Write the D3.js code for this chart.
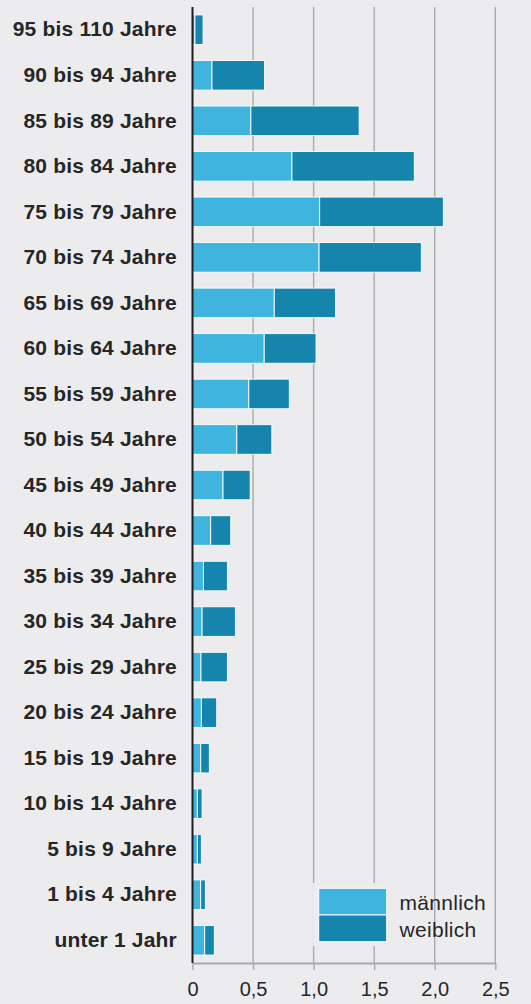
<!DOCTYPE html>
<html><head><meta charset="utf-8">
<script src="https://cdn.jsdelivr.net/npm/d3@7"></script>
<style>
html,body{margin:0;padding:0;background:#ececee;}
svg{display:block;}
</style></head>
<body>
<script>
const categories = ["95 bis 110 Jahre","90 bis 94 Jahre","85 bis 89 Jahre","80 bis 84 Jahre","75 bis 79 Jahre","70 bis 74 Jahre","65 bis 69 Jahre","60 bis 64 Jahre","55 bis 59 Jahre","50 bis 54 Jahre","45 bis 49 Jahre","40 bis 44 Jahre","35 bis 39 Jahre","30 bis 34 Jahre","25 bis 29 Jahre","20 bis 24 Jahre","15 bis 19 Jahre","10 bis 14 Jahre","5 bis 9 Jahre","1 bis 4 Jahre","unter 1 Jahr"];
const maennlich = [0.02,0.161,0.482,0.821,1.05,1.045,0.675,0.592,0.465,0.366,0.252,0.15,0.09,0.079,0.07,0.073,0.068,0.04,0.04,0.068,0.101];
const weiblich  = [0.067,0.434,0.894,1.01,1.021,0.844,0.505,0.428,0.334,0.289,0.224,0.166,0.198,0.275,0.218,0.127,0.071,0.039,0.033,0.038,0.079];
const tickValues = [0,0.5,1,1.5,2,2.5];
const tickLabels = ["0","0,5","1,0","1,5","2,0","2,5"];
const seriesNames = ["männlich","weiblich"];
const colors = ["#3eb4de","#1685ad"];

const W = 531, H = 1004;
const m = {left:192.5, right:35.7, top:7, bottom:41};
const FONT = "Liberation Sans, Arial, Helvetica, sans-serif";
const svg = d3.select("body").append("svg").attr("width",W).attr("height",H);
svg.append("rect").attr("width",W).attr("height",H).attr("fill","#ececee");

const x = d3.scaleLinear().domain([0,2.5]).range([m.left, W-m.right]);
const y = d3.scaleBand().domain(categories).range([m.top, H-m.bottom]).paddingInner(0.35).paddingOuter(0.175);

// gridlines
svg.append("g").selectAll("line").data(tickValues.slice(1)).join("line")
  .attr("x1",d=>x(d)).attr("x2",d=>x(d)).attr("y1",m.top).attr("y2",H-m.bottom)
  .attr("stroke","#a9a9ab").attr("stroke-width",1.4);

// x axis
const xAxis = d3.axisBottom(x).tickValues(tickValues).tickFormat((d,i)=>tickLabels[i]).tickSize(7).tickSizeOuter(0).tickPadding(12);
const gx = svg.append("g").attr("transform",`translate(0,${H-m.bottom})`).call(xAxis);
gx.select(".domain").attr("stroke","#a9a9ab").attr("stroke-width",2);
gx.selectAll(".tick line").attr("stroke","#a9a9ab").attr("stroke-width",1.4);
gx.selectAll("text").attr("font-family",FONT).attr("font-size",20).attr("fill","#262626");

// stacked data
const data = categories.map((c,i)=>({cat:c, "männlich":maennlich[i], "weiblich":weiblich[i]}));
const stack = d3.stack().keys(seriesNames)(data);
svg.append("g").selectAll("g").data(stack).join("g").attr("fill",(d,i)=>colors[i])
  .selectAll("rect").data(d=>d).join("rect")
  .attr("x",d=>x(d[0])).attr("width",d=>x(d[1])-x(d[0]))
  .attr("y",d=>y(d.data.cat)).attr("height",y.bandwidth())
  .attr("stroke","#ffffff").attr("stroke-width",0.9);

// y axis
const yAxis = d3.axisLeft(y).tickSize(0).tickPadding(15.5);
const gy = svg.append("g").attr("transform",`translate(${m.left},0)`).call(yAxis);
gy.select(".domain").attr("stroke","#1e1e1e").attr("stroke-width",2).attr("d",`M0,${m.top}V${H-m.bottom}`);
gy.selectAll("text").attr("font-family",FONT).attr("font-size",21).attr("letter-spacing",0.2).attr("font-weight","bold").attr("fill","#262626");

// legend
const lg = svg.append("g");
lg.append("rect").attr("x",313).attr("y",883).attr("width",115).attr("height",63).attr("fill","#ececee");
seriesNames.forEach((s,i)=>{
  lg.append("rect").attr("x",318.7).attr("y",888.3+i*26.7).attr("width",68).attr("height",26.7)
    .attr("fill",colors[i]).attr("stroke","#fff").attr("stroke-width",1);
  lg.append("text").attr("x",399.5).attr("y",910+i*26.7).text(s)
    .attr("font-family",FONT).attr("font-size",21).attr("letter-spacing",0.3).attr("fill","#262626");
});
</script>
</body></html>
